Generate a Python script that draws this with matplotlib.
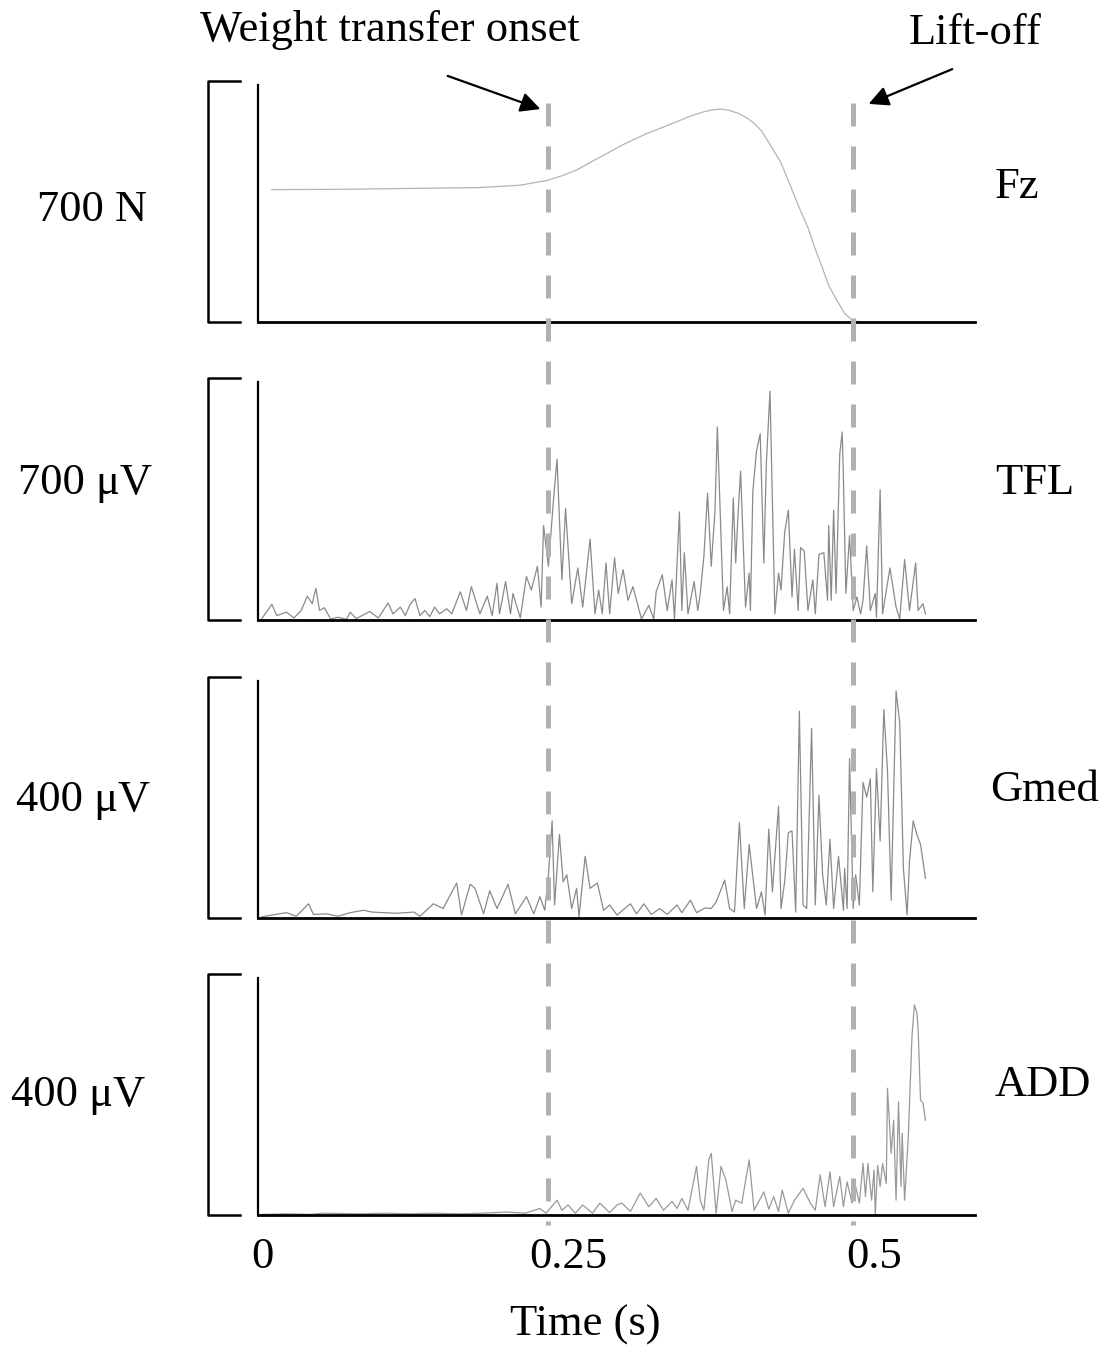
import matplotlib
matplotlib.use("Agg")
import matplotlib.pyplot as plt

plt.rcParams['font.family'] = ['Liberation Serif', 'DejaVu Serif']

# ---- data ----
fz_t = [0.008, 0.067, 0.177, 0.211, 0.234, 0.245, 0.257, 0.270, 0.283, 0.295,
        0.314, 0.333, 0.350, 0.360, 0.367, 0.375, 0.382, 0.390, 0.396, 0.401,
        0.408, 0.416, 0.424, 0.431, 0.438, 0.446, 0.452, 0.458, 0.463, 0.469,
        0.476, 0.483, 0.492]
fz_v = [391, 392, 397, 404, 419, 432, 449, 475, 500, 524,
        556, 583, 608, 620, 626, 629, 625, 615, 603, 590,
        565, 519, 470, 409, 345, 279, 215, 158, 108, 68,
        25, 3, 0]

tfl_t = [0.000, 0.008, 0.012, 0.020, 0.026, 0.032, 0.037, 0.041, 0.044, 0.047,
         0.051, 0.056, 0.062, 0.069, 0.072, 0.077, 0.088, 0.095, 0.103, 0.107,
         0.113, 0.117, 0.121, 0.125, 0.129, 0.133, 0.137, 0.141, 0.145, 0.151,
         0.155, 0.162, 0.167, 0.171, 0.178, 0.184, 0.188, 0.192, 0.194, 0.199,
         0.203, 0.205, 0.211, 0.216, 0.220, 0.225, 0.228, 0.230, 0.234, 0.238,
         0.241, 0.245, 0.248, 0.253, 0.258, 0.262, 0.268, 0.272, 0.275, 0.278,
         0.281, 0.284, 0.288, 0.291, 0.295, 0.299, 0.303, 0.310, 0.316, 0.320,
         0.322, 0.327, 0.331, 0.335, 0.337, 0.341, 0.343, 0.345, 0.348, 0.353,
         0.356, 0.358, 0.361, 0.364, 0.367, 0.370, 0.372, 0.377, 0.380, 0.382,
         0.385, 0.387, 0.389, 0.391, 0.395, 0.398, 0.399, 0.401, 0.404, 0.407,
         0.410, 0.412, 0.415, 0.419, 0.422, 0.424, 0.427, 0.430, 0.433, 0.435,
         0.438, 0.440, 0.443, 0.446, 0.450, 0.452, 0.455, 0.459, 0.462, 0.463,
         0.465, 0.467, 0.469, 0.472, 0.474, 0.475, 0.477, 0.480, 0.483, 0.486,
         0.489, 0.491, 0.494, 0.497, 0.501, 0.502, 0.505, 0.507, 0.513, 0.518,
         0.521, 0.525, 0.529, 0.534, 0.536, 0.540, 0.542]
tfl_v = [5, 46, 13, 23, 6, 28, 70, 48, 93, 28,
         36, 3, 8, 2, 23, 4, 25, 6, 50, 18,
         38, 13, 46, 63, 13, 28, 10, 38, 18, 33,
         18, 83, 28, 98, 18, 70, 13, 108, 18, 113,
         18, 78, 6, 128, 88, 158, 38, 278, 158, 348,
         473, 118, 328, 48, 153, 38, 238, 18, 88, 18,
         168, 18, 183, 78, 148, 58, 98, 3, 43, 3,
         83, 133, 28, 118, 3, 318, 28, 198, 18, 113,
         28, 78, 188, 373, 158, 318, 568, 28, 98, 18,
         358, 168, 318, 438, 38, 138, 28, 378, 498, 548,
         168, 458, 673, 18, 138, 88, 258, 323, 68, 208,
         28, 213, 203, 28, 118, 18, 193, 198, 58, 278,
         58, 323, 78, 488, 553, 418, 78, 248, 28, 68,
         18, 58, 218, 28, 78, 8, 383, 18, 153, 38,
         3, 178, 28, 168, 28, 48, 18]

gmed_t = [0.000, 0.008, 0.020, 0.028, 0.038, 0.042, 0.053, 0.062, 0.072, 0.083,
          0.090, 0.099, 0.110, 0.124, 0.129, 0.140, 0.144, 0.148, 0.153, 0.159,
          0.163, 0.170, 0.174, 0.181, 0.186, 0.192, 0.201, 0.207, 0.216, 0.222,
          0.227, 0.231, 0.234, 0.237, 0.239, 0.243, 0.246, 0.249, 0.253, 0.257,
          0.259, 0.264, 0.268, 0.274, 0.279, 0.284, 0.290, 0.301, 0.306, 0.312,
          0.318, 0.325, 0.331, 0.339, 0.343, 0.350, 0.355, 0.362, 0.367, 0.371,
          0.378, 0.382, 0.386, 0.390, 0.394, 0.398, 0.404, 0.408, 0.411, 0.414,
          0.417, 0.419, 0.422, 0.424, 0.427, 0.430, 0.433, 0.436, 0.439, 0.442,
          0.445, 0.449, 0.452, 0.455, 0.458, 0.461, 0.464, 0.467, 0.471, 0.475,
          0.476, 0.478, 0.480, 0.483, 0.485, 0.488, 0.491, 0.494, 0.497, 0.499,
          0.502, 0.505, 0.508, 0.511, 0.514, 0.518, 0.521, 0.524, 0.527, 0.529,
          0.532, 0.535, 0.538, 0.542]
gmed_v = [2, 5, 9, 3, 24, 6, 7, 3, 9, 13,
          10, 9, 8, 10, 3, 24, 20, 16, 36, 59,
          5, 57, 50, 7, 46, 16, 57, 7, 36, 7,
          36, 13, 73, 164, 22, 141, 61, 73, 16, 50,
          2, 104, 50, 59, 13, 22, 5, 24, 7, 24,
          6, 16, 6, 22, 9, 30, 9, 17, 16, 27,
          64, 16, 10, 161, 16, 124, 16, 44, 5, 150,
          44, 104, 189, 16, 61, 144, 147, 10, 349, 22,
          16, 320, 22, 207, 73, 22, 133, 16, 104, 13,
          84, 16, 269, 16, 73, 22, 229, 204, 235, 44,
          252, 130, 352, 249, 30, 383, 329, 84, 5, 96,
          164, 141, 124, 67]

add_t = [0.000, 0.020, 0.040, 0.050, 0.080, 0.100, 0.120, 0.140, 0.160, 0.180,
         0.200, 0.215, 0.227, 0.232, 0.241, 0.245, 0.250, 0.256, 0.262, 0.270,
         0.276, 0.284, 0.290, 0.294, 0.301, 0.309, 0.316, 0.322, 0.328, 0.335,
         0.339, 0.343, 0.348, 0.355, 0.358, 0.361, 0.365, 0.367, 0.371, 0.375,
         0.379, 0.384, 0.387, 0.392, 0.394, 0.398, 0.402, 0.410, 0.414, 0.418,
         0.422, 0.425, 0.430, 0.435, 0.442, 0.448, 0.452, 0.456, 0.460, 0.464,
         0.467, 0.472, 0.475, 0.478, 0.482, 0.485, 0.488, 0.491, 0.493, 0.495,
         0.498, 0.500, 0.501, 0.503, 0.505, 0.507, 0.510, 0.511, 0.514, 0.516,
         0.518, 0.520, 0.522, 0.523, 0.525, 0.528, 0.531, 0.533, 0.535, 0.536,
         0.538, 0.540, 0.542]
add_v = [1, 2, 1, 3, 2, 3, 2, 3, 2, 3,
         5, 3, 11, 3, 25, 8, 17, 3, 17, 3,
         20, 4, 17, 20, 6, 37, 14, 28, 8, 23,
         11, 28, 8, 82, 25, 8, 93, 104, 3, 82,
         59, 6, 25, 20, 45, 93, 8, 39, 10, 31,
         6, 42, 3, 25, 45, 20, 8, 68, 14, 73,
         14, 65, 14, 56, 20, 48, 20, 87, 31, 87,
         25, 76, 0, 84, 48, 87, 53, 214, 104, 160,
         25, 191, 48, 138, 25, 132, 301, 355, 341, 315,
         194, 189, 160]

panels = [("Fz", "700 N", 700, fz_t, fz_v, "#b4b4b4"),
          ("TFL", "700 \u03bcV", 700, tfl_t, tfl_v, "#8a8a8a"),
          ("Gmed", "400 \u03bcV", 400, gmed_t, gmed_v, "#8a8a8a"),
          ("ADD", "400 \u03bcV", 400, add_t, add_v, "#999999")]
events = [0.234, 0.483]
xticks = [0, 0.25, 0.5]
xticklabels = ["0", "0.25", "0.5"]

W, H = 1115, 1353
fig = plt.figure(figsize=(W / 100, H / 100), dpi=100)

x0, x1 = -0.0033, 0.5825
left = 258 / W
width = 717 / W
tops = [85, 382, 681, 978]
bottoms = [322, 620, 918, 1215]
right_lab = [(1017, 187), (1035, 483), (1045, 790), (1043, 1085)]
left_lab = [(92, 210), (85, 483), (83, 800), (78, 1095)]

axes = []
for i, (name, scale, top, t, v, col) in enumerate(panels):
    ax = fig.add_axes([left, 1 - bottoms[i] / H, width, (bottoms[i] - tops[i]) / H])
    ax.plot(t, v, color=col, lw=0.9)
    ax.set_xlim(x0, x1)
    ax.set_ylim(0, top)
    for s in ["top", "right"]:
        ax.spines[s].set_visible(False)
    ax.spines["left"].set_linewidth(1.6)
    ax.spines["bottom"].set_linewidth(2.0)
    ax.set_yticks([])
    ax.set_xticks([])
    # scale bracket
    ax.plot([-0.025, -0.07, -0.07, -0.025], [0, 0, 1.015, 1.015], color="black",
            lw=1.8, transform=ax.transAxes, clip_on=False)
    fig.text(right_lab[i][0] / W, 1 - right_lab[i][1] / H, name, fontsize=32,
             ha="center", va="center")
    fig.text(left_lab[i][0] / W, 1 - left_lab[i][1] / H, scale, fontsize=32,
             ha="center", va="center")
    axes.append(ax)

axes[-1].set_xticks(xticks)
axes[-1].set_xticklabels(xticklabels, fontsize=32)
axes[-1].tick_params(axis="x", length=0, pad=16)
fig.text(585 / W, 1 - 1325 / H, "Time (s)", fontsize=32, ha="center", va="center")

# overlay for event lines and arrows
ov = fig.add_axes([left, 0, width, 1])
ov.set_xlim(x0, x1)
ov.set_ylim(0, 1)
ov.axis("off")
for e in events:
    ov.plot([e, e], [1 - 103 / H, 1 - 1225 / H], color="#b0b0b0", lw=3.6,
            dashes=(4.6, 4.0))

ov.annotate("", xy=(0.2296, 0.9187), xytext=(0.1495, 0.9446),
            arrowprops=dict(arrowstyle="-|>", color="black", lw=1.6, mutation_scale=30))
ov.annotate("", xy=(0.4935, 0.9224), xytext=(0.566, 0.9497),
            arrowprops=dict(arrowstyle="-|>", color="black", lw=1.6, mutation_scale=30))
fig.text(390 / W, 1 - 30 / H, "Weight transfer onset", fontsize=32,
         ha="center", va="center")
fig.text(975 / W, 1 - 33 / H, "Lift-off", fontsize=32, ha="center", va="center")

fig.savefig("out.png", dpi=100, facecolor="white")
